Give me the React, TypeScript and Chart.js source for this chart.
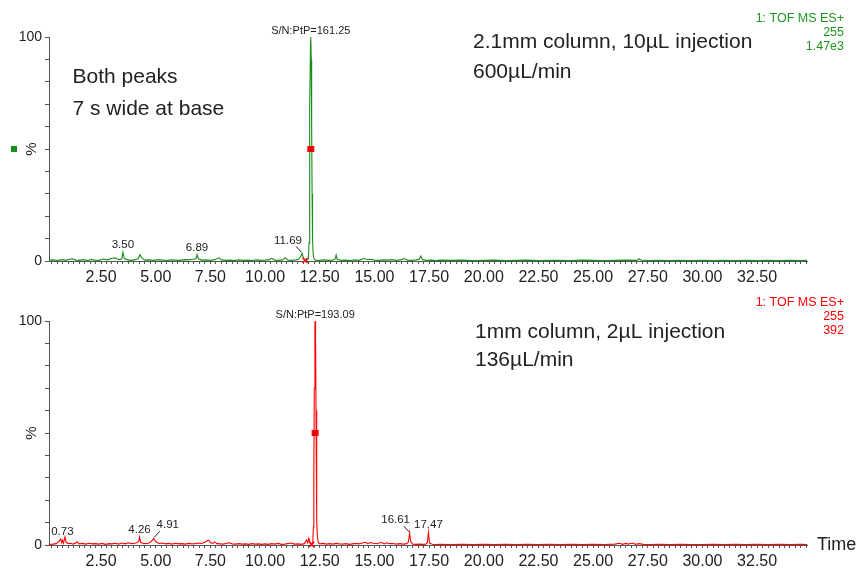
import React, { useEffect, useRef } from "react";
import { Chart, registerables } from "chart.js";
Chart.register(...registerables);

const FONT = '"Liberation Sans", Arial, Helvetica, sans-serif';

// ---------- data (time in min, intensity in %) ----------
const topTimes = [
  0.12, 0.3, 0.5, 0.7, 0.9, 1.05, 1.2, 1.35, 1.5, 1.7, 1.9, 2.05, 2.2, 2.4, 2.6, 2.8, 3.0, 3.15, 3.3, 3.45,
  3.5, 3.56, 3.7, 3.9, 4.05, 4.2, 4.28, 4.36, 4.5, 4.7, 4.9, 5.1, 5.3, 5.5, 5.7, 5.9, 6.1, 6.3, 6.5, 6.7,
  6.84, 6.89, 6.95, 7.1, 7.3, 7.5, 7.7, 7.9, 8.0, 8.2, 8.4, 8.6, 8.8, 9.0, 9.2, 9.4, 9.6, 9.8, 10.0, 10.2,
  10.3, 10.45, 10.6, 10.8, 10.92, 11.05, 11.2, 11.4, 11.55, 11.64, 11.69, 11.75, 11.83, 11.92, 11.98, 12.01, 12.03, 12.05, 12.08, 12.09,
  12.11, 12.13, 12.15, 12.17, 12.2, 12.24, 12.3, 12.5, 12.7, 12.9, 13.1, 13.2, 13.25, 13.3, 13.5, 13.7, 13.9, 14.1, 14.3, 14.45,
  14.55, 14.7, 14.85, 15.0, 15.2, 15.4, 15.6, 15.8, 16.0, 16.2, 16.35, 16.5, 16.7, 16.9, 17.05, 17.12, 17.2, 17.4, 17.6, 17.8,
  18.0, 18.5, 19.0, 19.5, 20.0, 20.5, 21.0, 21.5, 22.0, 22.5, 23.0, 23.5, 24.0, 24.5, 25.0, 25.5, 26.0, 26.5, 27.0, 27.1,
  27.2, 27.6, 28.0, 28.5, 29.0, 29.5, 30.0, 30.5, 31.0, 31.5, 32.0, 32.5, 33.0, 33.5, 34.0, 34.5, 34.78,
];
const topIntensity = [
  0.3, 0.5, 0.2, 0.6, 0.3, 0.8, 1.0, 0.4, 0.3, 0.6, 0.2, 0.7, 0.4, 0.3, 0.9, 0.5, 1.2, 1.4, 0.6, 0.9,
  3.9, 1.2, 0.5, 0.3, 0.6, 1.0, 2.8, 1.5, 0.4, 0.5, 0.3, 0.6, 0.4, 0.2, 0.5, 0.4, 0.3, 0.6, 0.5, 0.8,
  1.0, 2.8, 1.0, 0.4, 0.5, 0.3, 0.6, 1.4, 0.5, 0.3, 0.4, 0.2, 0.5, 0.3, 0.4, 0.2, 0.5, 0.3, 0.4, 0.6,
  1.2, 0.4, 0.3, 0.5, 1.5, 0.4, 0.3, 0.5, 0.9, 2.2, 3.4, 1.5, 0.3, 0.4, 1.0, 8, 30, 70, 98, 100,
  90, 60, 30, 10, 3, 1.0, 0.4, 0.3, 0.5, 0.3, 0.4, 0.8, 2.7, 0.7, 0.3, 0.4, 0.2, 0.5, 0.3, 0.9,
  1.1, 0.6, 0.8, 0.4, 0.3, 0.5, 0.4, 0.6, 0.3, 0.5, 1.1, 0.4, 0.3, 0.5, 0.8, 2.2, 0.6, 0.3, 0.4, 0.2,
  0.4, 0.3, 0.4, 0.2, 0.3, 0.4, 0.2, 0.3, 0.4, 0.2, 0.3, 0.3, 0.2, 0.4, 0.3, 0.2, 0.3, 0.4, 0.3, 1.0,
  0.3, 0.2, 0.3, 0.2, 0.3, 0.2, 0.3, 0.2, 0.3, 0.2, 0.3, 0.2, 0.3, 0.2, 0.3, 0.2, 0.3,
];

const bottomTimes = [
  0.12, 0.3, 0.45, 0.6, 0.65, 0.7, 0.73, 0.78, 0.85, 0.9, 1.0, 1.1, 1.2, 1.35, 1.4, 1.5, 1.65, 1.8, 1.95, 2.1,
  2.25, 2.4, 2.55, 2.7, 2.85, 3.0, 3.15, 3.3, 3.45, 3.6, 3.75, 3.9, 4.05, 4.15, 4.22, 4.26, 4.31, 4.45, 4.6, 4.7,
  4.8, 4.87, 4.91, 4.96, 5.05, 5.15, 5.3, 5.45, 5.6, 5.75, 5.9, 6.05, 6.2, 6.35, 6.5, 6.65, 6.8, 6.95, 7.1, 7.25,
  7.35, 7.42, 7.5, 7.6, 7.7, 7.8, 7.95, 8.1, 8.25, 8.35, 8.5, 8.65, 8.8, 8.95, 9.1, 9.25, 9.4, 9.55, 9.7, 9.85,
  10.0, 10.15, 10.3, 10.45, 10.6, 10.75, 10.9, 11.05, 11.2, 11.35, 11.5, 11.65, 11.8, 11.9, 11.95, 12.0, 12.05, 12.1, 12.15, 12.18,
  12.21, 12.23, 12.25, 12.28, 12.29, 12.31, 12.33, 12.35, 12.37, 12.4, 12.44, 12.5, 12.65, 12.8, 12.95, 13.1, 13.25, 13.4, 13.55, 13.7,
  13.85, 14.0, 14.15, 14.3, 14.45, 14.6, 14.7, 14.8, 14.95, 15.1, 15.2, 15.35, 15.45, 15.55, 15.7, 15.85, 16.0, 16.15, 16.3, 16.45,
  16.55, 16.61, 16.66, 16.75, 16.9, 17.05, 17.2, 17.35, 17.42, 17.47, 17.52, 17.65, 17.8, 18.0, 18.5, 19.0, 19.5, 20.0, 20.5, 21.0,
  21.5, 22.0, 22.5, 23.0, 23.5, 24.0, 24.5, 25.0, 25.5, 26.0, 26.2, 26.35, 26.5, 26.6, 26.8, 26.95, 27.1, 27.3, 27.6, 28.0,
  28.5, 29.0, 29.5, 30.0, 30.5, 31.0, 31.5, 32.0, 32.5, 33.0, 33.5, 34.0, 34.5, 34.78,
];
const bottomIntensity = [
  0.3, 0.4, 0.6, 1.8, 2.6, 1.0, 2.2, 0.8, 3.6, 1.2, 0.6, 0.8, 0.4, 0.9, 1.4, 0.5, 0.7, 0.4, 0.8, 0.5,
  0.6, 0.4, 0.7, 0.3, 0.6, 0.5, 0.8, 0.4, 0.9, 0.5, 1.0, 0.6, 0.8, 1.1, 1.5, 3.6, 1.2, 0.6, 0.7, 0.9,
  1.6, 2.4, 3.0, 2.0, 1.2, 0.7, 0.9, 0.5, 0.7, 0.4, 0.8, 0.5, 0.6, 0.4, 0.7, 0.5, 0.6, 0.9, 0.7, 1.2,
  1.9, 2.2, 1.1, 0.7, 1.4, 0.6, 0.5, 0.4, 0.8, 1.0, 0.5, 0.4, 0.6, 0.4, 0.5, 0.3, 0.6, 0.4, 0.5, 0.3,
  0.5, 0.3, 0.6, 0.4, 0.7, 0.3, 0.4, 0.7, 0.9, 0.4, 0.5, 0.3, 0.6, 2.2, 1.0, 3.0, 1.5, 0.5, 0.8, 1.2,
  8, 30, 70, 98, 100, 90, 60, 30, 10, 3, 1.0, 0.5, 0.7, 0.4, 0.6, 0.4, 0.7, 0.5, 0.4, 0.6,
  0.3, 0.5, 0.7, 0.5, 0.9, 1.2, 0.6, 1.1, 0.8, 0.6, 0.9, 1.1, 0.5, 1.0, 0.6, 0.7, 0.4, 0.6, 0.4, 0.5,
  1.2, 5.4, 1.5, 0.4, 0.3, 0.4, 0.3, 0.4, 1.0, 5.7, 0.8, 0.3, 0.2, 0.3, 0.2, 0.3, 0.2, 0.3, 0.2, 0.3,
  0.2, 0.3, 0.2, 0.3, 0.2, 0.3, 0.2, 0.3, 0.2, 0.4, 0.8, 0.3, 0.7, 0.4, 0.9, 0.3, 0.6, 0.3, 0.2, 0.3,
  0.2, 0.3, 0.2, 0.2, 0.3, 0.2, 0.3, 0.2, 0.3, 0.2, 0.3, 0.2, 0.3, 0.2,
];

// ---------- axes ----------
const xMin = 0.12;
const xMax = 34.78;
const xMinorStep = 0.25;
const xMajorTicks = [2.5, 5, 7.5, 10, 12.5, 15, 17.5, 20, 22.5, 25, 27.5, 30, 32.5];
const xTickLabels = ["2.50", "5.00", "7.50", "10.00", "12.50", "15.00", "17.50", "20.00", "22.50", "25.00", "27.50", "30.00", "32.50"];
const yLabelledTicks = [0, 100];
const yTickLabels = ["0", "100"];

// ---------- annotations ----------
const topPeakLabels = ["3.50", "6.89"];
const topPeakTimes = [3.5, 6.89];
const topLeaderLabels = ["11.69"];
const topLeaderTimes = [11.69];
const topLeaderSides = ["left"];
const topApexTime = 12.09;
const topSN = "S/N:PtP=161.25";
const topBaseMarkTime = 11.83;
const topInfo = ["1: TOF MS ES+", "255", "1.47e3"];
const topNotesLeft = ["Both peaks", "7 s wide at base"];
const topNotesRight = ["2.1mm column, 10\u00b5L injection", "600\u00b5L/min"];

const bottomPeakLabels = ["0.73", "4.26", "17.47"];
const bottomPeakTimes = [0.73, 4.26, 17.47];
const bottomLeaderLabels = ["4.91", "16.61"];
const bottomLeaderTimes = [4.91, 16.61];
const bottomLeaderSides = ["right", "left"];
const bottomApexTime = 12.29;
const bottomSN = "S/N:PtP=193.09";
const bottomBaseMarkTime = 12.13;
const bottomInfo = ["1: TOF MS ES+", "255", "392"];
const bottomNotesRight = ["1mm column, 2\u00b5L injection", "136\u00b5L/min"];

const GREEN = "rgb(24,140,24)";
const GREEN_TEXT = "rgb(30,150,30)";
const RED = "rgb(255,0,0)";
const AXIS = "#555";
const TEXT = "#222";

function localMax(times: number[], vals: number[], t: number, w = 0.08) {
  let m = 0;
  for (let i = 0; i < times.length; i++) if (Math.abs(times[i] - t) <= w && vals[i] > m) m = vals[i];
  return m;
}

function buildConfig(o: any) {
  const points = o.times.map((t: number, i: number) => ({ x: t, y: o.vals[i] }));
  const minorTicks: number[] = [];
  for (let i = Math.ceil(xMin / xMinorStep); i * xMinorStep <= xMax; i++) minorTicks.push(+(i * xMinorStep).toFixed(2));

  const overlay = {
    id: "overlay",
    afterDatasetsDraw(chart: any) {
      const { ctx, scales } = chart;
      const x = scales.x, y = scales.y;
      const area = chart.chartArea;
      ctx.save();
      ctx.textBaseline = "middle";

      // y axis title "%"
      const midY = y.getPixelForValue(50);
      ctx.save();
      ctx.translate(31.5, midY);
      ctx.rotate(-Math.PI / 2);
      ctx.fillStyle = TEXT;
      ctx.font = `15px ${FONT}`;
      ctx.textAlign = "center";
      ctx.fillText("%", 0, 0);
      ctx.restore();
      if (o.square) {
        ctx.fillStyle = o.color;
        ctx.fillRect(11, midY - 3, 6, 6);
      }

      // small peak labels
      ctx.fillStyle = TEXT;
      ctx.font = `11.5px ${FONT}`;
      ctx.textAlign = "center";
      o.peakLabels.forEach((lab: string, i: number) => {
        const t = o.peakTimes[i];
        const v = localMax(o.times, o.vals, t);
        ctx.fillText(lab, x.getPixelForValue(t), y.getPixelForValue(v) - 7);
      });
      // leader labels
      ctx.strokeStyle = TEXT;
      ctx.lineWidth = 1;
      o.leaderLabels.forEach((lab: string, i: number) => {
        const t = o.leaderTimes[i];
        const v = localMax(o.times, o.vals, t, 0.05);
        const px = x.getPixelForValue(t);
        const py = y.getPixelForValue(v);
        const dir = o.leaderSides[i] === "left" ? -1 : 1;
        ctx.fillText(lab, px + dir * 14, py - 13);
        ctx.beginPath();
        ctx.moveTo(px + dir * 6, py - 7);
        ctx.lineTo(px + dir * 0.5, py - 1);
        ctx.stroke();
      });

      // S/N label at apex
      const ax = x.getPixelForValue(o.apexTime);
      ctx.font = `11px ${FONT}`;
      ctx.fillText(o.sn, ax, area.top - 6);

      // half-height marker
      ctx.fillStyle = RED;
      ctx.fillRect(ax - 3.5, midY - 3, 7, 6);
      ctx.fillStyle = "rgba(120,0,0,0.6)";
      ctx.fillRect(ax - 0.5, midY - 2, 1, 4);

      // baseline marker (x)
      const bx = x.getPixelForValue(o.baseMarkTime);
      const by = y.getPixelForValue(0);
      ctx.strokeStyle = RED;
      ctx.lineWidth = 1.5;
      ctx.beginPath();
      ctx.moveTo(bx - 2.5, by - 3);
      ctx.lineTo(bx + 2.5, by + 2);
      ctx.moveTo(bx + 2.5, by - 3);
      ctx.lineTo(bx - 2.5, by + 2);
      ctx.stroke();

      // info block (top right)
      ctx.fillStyle = o.infoColor;
      ctx.font = `12.5px ${FONT}`;
      ctx.textAlign = "right";
      o.info.forEach((s: string, i: number) => ctx.fillText(s, 844, o.infoY + i * 14));

      // notes
      ctx.fillStyle = TEXT;
      ctx.font = `21px ${FONT}`;
      ctx.textAlign = "left";
      o.notes.forEach((n: any) => n.lines.forEach((s: string, i: number) => ctx.fillText(s, n.x, n.y + i * (n.gap))));

      if (o.timeLabel) {
        ctx.font = `18px ${FONT}`;
        ctx.fillText("Time", 817, by);
      }
      ctx.restore();
    },
  };

  return {
    type: "line",
    data: {
      datasets: [
        {
          data: points,
          borderColor: o.color,
          borderWidth: 1.1,
          pointRadius: 0,
          tension: 0,
          fill: false,
        },
      ],
    },
    options: {
      animation: false,
      responsive: false,
      devicePixelRatio: 1,
      events: [],
      layout: { padding: { top: o.padTop, right: 53, bottom: o.padBottom, left: 0 } },
      plugins: { legend: { display: false }, tooltip: { enabled: false }, title: { display: false } },
      scales: {
        x: {
          type: "linear",
          min: xMin,
          max: xMax,
          afterBuildTicks: (s: any) => {
            s.ticks = minorTicks.map((v) => ({ value: v }));
          },
          afterFit: (s: any) => {
            s.height = o.xHeight;
          },
          ticks: {
            autoSkip: false,
            maxRotation: 0,
            minRotation: 0,
            padding: 4,
            color: TEXT,
            font: { family: FONT, size: 16 },
            callback: (v: number) => {
              const k = xMajorTicks.findIndex((m) => Math.abs(m - v) < 1e-6);
              return k >= 0 ? xTickLabels[k] : "";
            },
          },
          grid: { drawOnChartArea: false, drawTicks: true, tickLength: 3, color: AXIS },
          border: { display: true, color: AXIS, width: 1 },
        },
        y: {
          type: "linear",
          min: 0,
          max: 100,
          afterFit: (s: any) => {
            s.width = 49;
          },
          ticks: {
            stepSize: 10,
            padding: 3,
            color: TEXT,
            font: { family: FONT, size: 14 },
            callback: (v: number) => {
              const k = yLabelledTicks.indexOf(v);
              return k >= 0 ? yTickLabels[k] : "";
            },
          },
          grid: { drawOnChartArea: false, drawTicks: true, tickLength: 4, color: AXIS },
          border: { display: true, color: AXIS, width: 1 },
        },
      },
    },
    plugins: [overlay],
  } as any;
}

export default function App() {
  const topRef = useRef<HTMLCanvasElement>(null);
  const botRef = useRef<HTMLCanvasElement>(null);

  useEffect(() => {
    const top = new Chart(
      topRef.current as HTMLCanvasElement,
      buildConfig({
        times: topTimes,
        vals: topIntensity,
        color: GREEN,
        square: true,
        padTop: 37,
        padBottom: 15,
        xHeight: 24,
        peakLabels: topPeakLabels,
        peakTimes: topPeakTimes,
        leaderLabels: topLeaderLabels,
        leaderTimes: topLeaderTimes,
        leaderSides: topLeaderSides,
        apexTime: topApexTime,
        sn: topSN,
        baseMarkTime: topBaseMarkTime,
        info: topInfo,
        infoColor: GREEN_TEXT,
        infoY: 19,
        notes: [
          { lines: topNotesLeft, x: 72.5, y: 77, gap: 32 },
          { lines: topNotesRight, x: 473, y: 42, gap: 30 },
        ],
        timeLabel: false,
      })
    );
    const bot = new Chart(
      botRef.current as HTMLCanvasElement,
      buildConfig({
        times: bottomTimes,
        vals: bottomIntensity,
        color: RED,
        square: false,
        padTop: 36,
        padBottom: 0,
        xHeight: 26,
        peakLabels: bottomPeakLabels,
        peakTimes: bottomPeakTimes,
        leaderLabels: bottomLeaderLabels,
        leaderTimes: bottomLeaderTimes,
        leaderSides: bottomLeaderSides,
        apexTime: bottomApexTime,
        sn: bottomSN,
        baseMarkTime: bottomBaseMarkTime,
        info: bottomInfo,
        infoColor: RED,
        infoY: 18,
        notes: [{ lines: bottomNotesRight, x: 475, y: 47, gap: 28 }],
        timeLabel: true,
      })
    );
    return () => {
      top.destroy();
      bot.destroy();
    };
  }, []);

  return (
    <div style={{ position: "fixed", left: 0, top: 0, width: 860, height: 571, background: "#fff" }}>
      <canvas ref={topRef} width={860} height={300} style={{ position: "absolute", left: 0, top: 0, width: 860, height: 300 }} />
      <canvas ref={botRef} width={860} height={286} style={{ position: "absolute", left: 0, top: 285, width: 860, height: 286 }} />
    </div>
  );
}
